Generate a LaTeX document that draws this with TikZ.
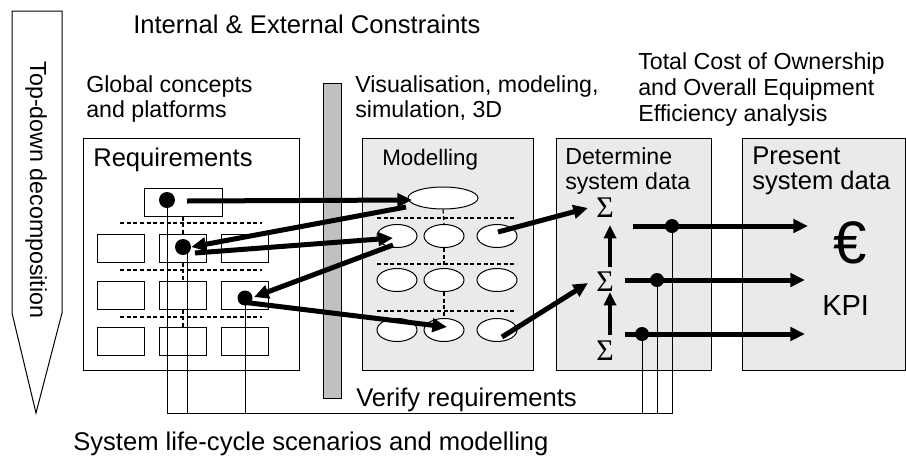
\documentclass[tikz,border=0pt]{standalone}
\usepackage{fontspec}
\setmainfont{Liberation Sans}
\newfontfamily\sumfont{Liberation Serif}
\usepackage{tikz}
\usetikzlibrary{shapes.geometric,arrows.meta}
\definecolor{boxfill}{RGB}{234,234,234}
\definecolor{barfill}{RGB}{192,192,192}

\begin{document}
\begin{tikzpicture}[x=0.75pt,y=0.75pt,yscale=-1,
  panel/.style={draw,line width=0.75pt,inner sep=0pt,minimum height=174pt},
  reqbox/.style={draw,fill=white,line width=0.75pt,minimum width=35.25pt,minimum height=21pt,inner sep=0pt},
  modell/.style={draw,fill=white,ellipse,line width=0.75pt,minimum width=30pt,minimum height=17.25pt,inner sep=0pt},
  bigdot/.style={circle,fill=black,minimum size=12pt,inner sep=0pt},
  smalldot/.style={circle,fill=black,minimum size=10.5pt,inner sep=0pt},
  dashrule/.style={line width=0.9pt,dash pattern=on 3pt off 2pt},
  thinline/.style={line width=0.75pt},
  thickarrow/.style={line width=3.75pt,-{Triangle[length=11pt,width=10pt]}},
  sumarrow/.style={line width=3pt,-{Triangle[length=10pt,width=9pt]}},
  txt/.style={inner sep=0pt,anchor=north west,align=left,font=\fontsize{17.4}{18.75}\selectfont},
  bigtxt/.style={txt,font=\fontsize{19.2}{18.75}\selectfont}]
\useasboundingbox (0,0) rectangle (906,461);

%Shape: Top-down arrow
\draw[thinline] (12,11) -- (62,11) -- (62,313) -- (36,413) -- (12,313) -- cycle;
\node[inner sep=0pt,rotate=-90,font=\fontsize{17.4}{18.75}\selectfont] (topdown) at (36,190) {Top-down decomposition};

%Shape: Panels
\node[panel,minimum width=162pt] (req) at (191,254) {};
\node[panel,fill=boxfill,minimum width=128.25pt] (model) at (447.5,254) {};
\node[panel,fill=boxfill,minimum width=116.25pt] (determ) at (633.5,254) {};
\node[panel,fill=boxfill,minimum width=122.25pt] (present) at (823.5,254) {};

%Shape: Constraint bar
\draw[thinline,fill=barfill] (323,83) rectangle (341,398);

% Text Node
\node[bigtxt] (constr) at (133,15) {Internal \& External Constraints};
\node[txt] (global) at (86,75) {Global concepts\\and platforms};
\node[txt] (visual) at (355,75) {Visualisation, modeling,\\simulation, 3D};
\node[txt,font=\fontsize{17.4}{19.5}\selectfont] (tco) at (638,52) {Total Cost of Ownership\\and Overall Equipment\\Efficiency analysis};
\node[bigtxt] (reqlbl) at (93,148) {Requirements};
\node[txt,font=\fontsize{16.8}{18.75}\selectfont] (modlbl) at (382,149) {Modelling};
\node[txt] (detlbl) at (565,147) {Determine\\system data};
\node[bigtxt] (prelbl) at (752,147) {Present\\system data};
\node[bigtxt] (verify) at (356,388) {Verify requirements};
\node[bigtxt] (life) at (73,432) {System life-cycle scenarios and modelling};
\node[inner sep=0pt,font=\fontsize{45}{45}\selectfont] (euro) at (850,243) {€};
\node[txt,font=\fontsize{21.75}{22}\selectfont] (kpi) at (822,295) {KPI};

%Shape: Requirement grid
\node[reqbox,minimum width=58.5pt] (rtop) at (183,202) {};
\foreach \r/\y in {1/248,2/295,3/341.5}
  \foreach \c/\x in {1/120.5,2/183,3/245}
    \node[reqbox] (r\r\c) at (\x,\y) {};
\foreach \y in {223,270,317}
  \draw[dashrule] (120,\y) -- (262,\y);
\draw[dashrule] (rtop.south) -- (r12.north);
\draw[dashrule] (r12.south) -- (r22.north);
\draw[dashrule] (r22.south) -- (r32.north);

%Shape: Model ellipses
\node[modell,minimum width=52.5pt,minimum height=16.5pt] (mtop) at (443,198) {};
\foreach \r/\y in {1/236,2/280,3/330}
  \foreach \c/\x in {1/397,2/444,3/497}
    \node[modell] (m\r\c) at (\x,\y) {};
\foreach \y in {218,264,311}
  \draw[dashrule] (377,\y) -- (517,\y);
\draw[dashrule] (mtop.south) -- (m12.north);
\draw[dashrule] (m12.south) -- (m22.north);
\draw[dashrule] (m22.south) -- (m32.north);

%Sums
\foreach \n/\y in {1/208,2/282,3/351}
  \node[inner sep=0pt,font=\sumfont\fontsize{22.5}{22.5}\selectfont] (s\n) at (605,\y) {Σ};

%Dots
\node[bigdot] (d1) at (167,200) {};
\node[bigdot] (d2) at (183,247) {};
\node[bigdot,minimum size=11.25pt] (d3) at (245,298) {};
\node[smalldot] (p1) at (672,226) {};
\node[smalldot] (p2) at (657,280) {};
\node[smalldot] (p3) at (642,334) {};

%Straight Lines: life-cycle loop
\coordinate (loop) at (400,413);
\draw[thinline] (d1.center) -- (d1 |- loop) -- (p1 |- loop) -- (p1.center);
\draw[thinline] ([shift={(4,0)}]d2.center) -- ++(0,166);
\draw[thinline] (d3.center) -- (d3 |- loop);
\draw[thinline] (p2.center) -- (p2 |- loop);
\draw[thinline] (p3.center) -- (p3 |- loop);

%Straight Lines: thick arrows
\draw[thickarrow] ([shift={(20,1)}]d1.center) -- ([shift={(-31,2)}]mtop.center);
\draw[thickarrow] ([shift={(-37,9)}]mtop.center) -- (d2.east);
\draw[thickarrow] ([shift={(12,6)}]d2.center) -- ([shift={(-4,2)}]m11.center);
\draw[thickarrow] ([shift={(-4,9)}]m11.center) -- ([shift={(9,-1)}]d3.center);
\draw[thickarrow] ([shift={(-3,4)}]d3.center) -- ([shift={(3,-3)}]m32.center);
\draw[thickarrow] ([shift={(1,-4)}]m13.center) -- ([shift={(-17,0)}]s1.center);
\draw[thickarrow] ([shift={(5,7)}]m33.center) -- ([shift={(-17,1)}]s2.center);
\draw[sumarrow] ([shift={(5,-15)}]s2.center) -- ([shift={(5,17)}]s1.center);
\draw[sumarrow] ([shift={(5,-16)}]s3.center) -- ([shift={(5,10)}]s2.center);
\draw[thickarrow] ([shift={(-39,0)}]p1.center) -- ([shift={(136,0)}]p1.center);
\draw[thickarrow] ([shift={(-32,0)}]p2.center) -- ([shift={(148,0)}]p2.center);
\draw[thickarrow] ([shift={(-17,0)}]p3.center) -- ([shift={(163,0)}]p3.center);

\end{tikzpicture}
\end{document}
